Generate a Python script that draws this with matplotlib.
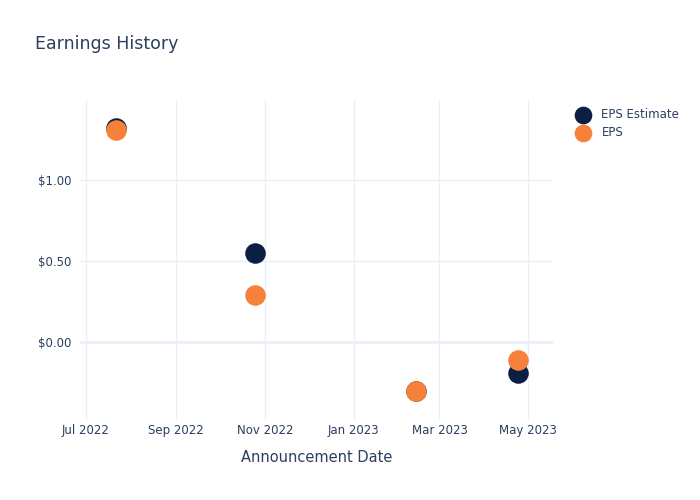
import numpy as np
import pandas as pd
import matplotlib
matplotlib.use("Agg")
import matplotlib.pyplot as plt
import matplotlib.dates as mdates
from matplotlib.ticker import FuncFormatter

# data
dates = pd.to_datetime(["2022-07-22", "2022-10-25", "2023-02-13", "2023-04-24"])
eps_estimate = [1.32, 0.55, -0.30, -0.19]
eps_actual = [1.31, 0.29, -0.30, -0.11]

navy = "#0b1f42"
orange = "#f7803a"
grid = "#ebf0f8"
text = "#2a3f5f"

fig = plt.figure(figsize=(7, 5), dpi=100)
ax = fig.add_axes([80 / 700, 80 / 500, 473 / 700, 320 / 500])

ax.scatter(dates, eps_estimate, s=190, color=navy, zorder=3, label="EPS Estimate")
ax.scatter(dates, eps_actual, s=190, color=orange, zorder=4, label="EPS")

ax.set_xlim(pd.Timestamp("2022-06-27"), pd.Timestamp("2023-05-18"))
ax.set_ylim(-0.481, 1.494)

ax.xaxis.set_major_locator(mdates.MonthLocator(bymonth=[1, 3, 5, 7, 9, 11]))
ax.xaxis.set_major_formatter(mdates.DateFormatter("%b %Y"))
ax.set_yticks([0, 0.5, 1.0])
ax.yaxis.set_major_formatter(FuncFormatter(lambda v, p: "$%.2f" % v if v >= 0 else "-$%.2f" % -v))

ax.grid(True, color=grid, linewidth=1, zorder=0)
ax.axhline(0, color=grid, linewidth=2, zorder=1)
for s in ax.spines.values():
    s.set_visible(False)
ax.tick_params(axis="y", length=0, colors=text, labelsize=8.5, pad=6)
ax.tick_params(axis="x", length=0, colors=text, labelsize=8.5, pad=3)
ax.set_xlabel("Announcement Date", color=text, fontsize=10.5, labelpad=9)

fig.text(35 / 700, 1 - 44 / 500, "Earnings History", color=text, fontsize=12.5, va="center")

leg = ax.legend(loc="upper left", bbox_to_anchor=(1.015, 1.008), frameon=False,
                fontsize=8.5, labelcolor=text, handletextpad=0.6,
                labelspacing=0.45, markerscale=0.85)

fig.savefig("out.png", dpi=100)
